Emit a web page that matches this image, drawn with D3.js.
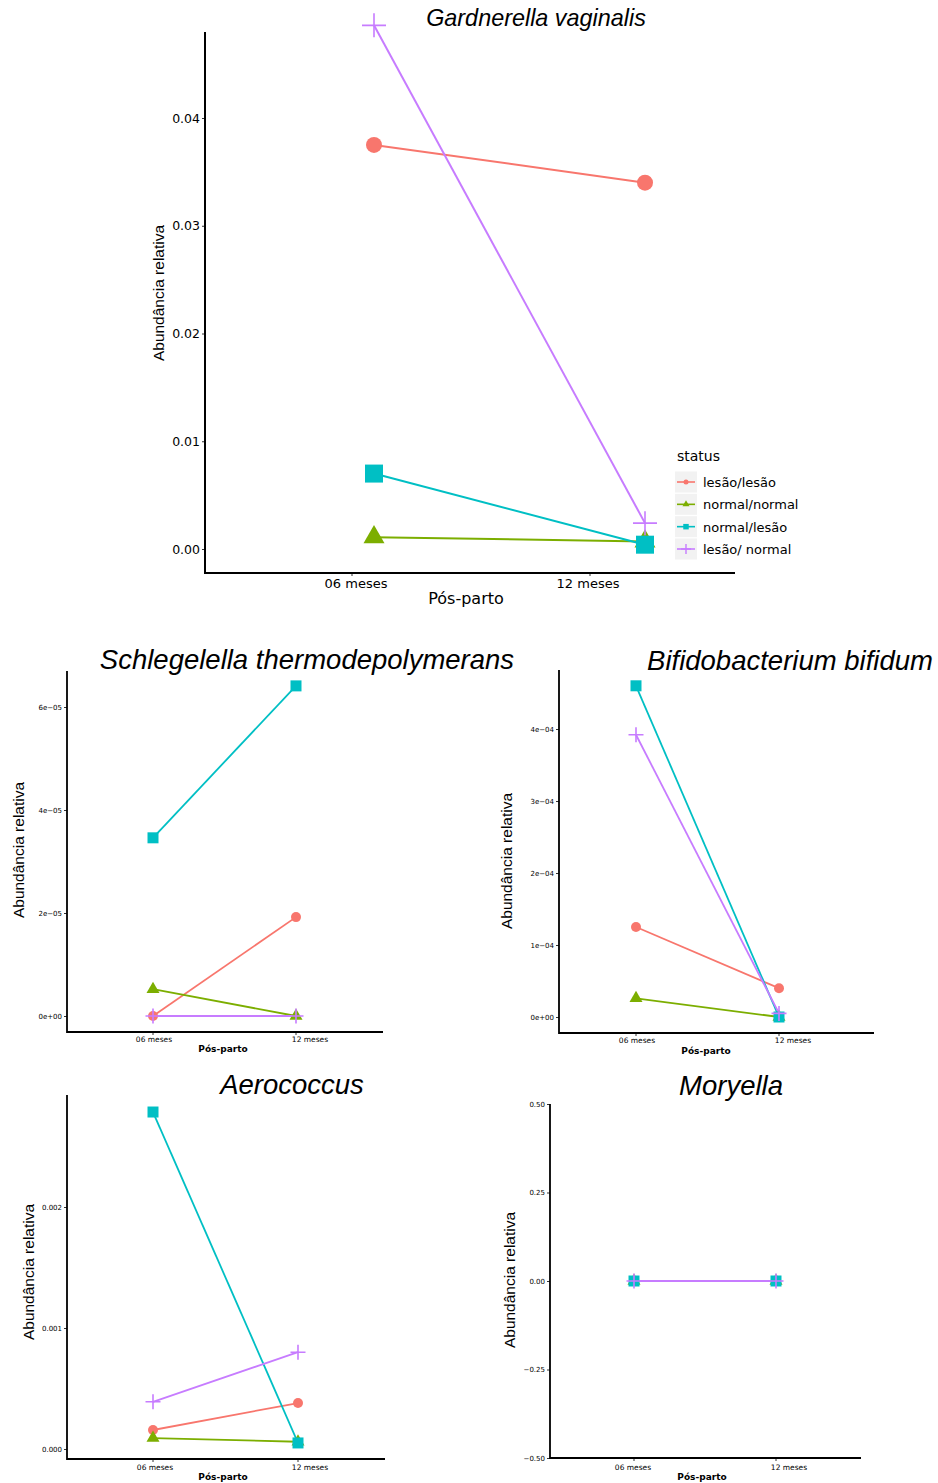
<!DOCTYPE html>
<html>
<head>
<meta charset="utf-8">
<script src="https://cdn.jsdelivr.net/npm/d3@7"></script>
<style>
  body { margin: 0; background: #fff; }
  svg text { fill: #000; }
</style>
</head>
<body>
<div id="main_container"></div>
<script>

// -- DATA

var timepoints = ["06 meses", "12 meses"];
var statusNames = ["lesão/lesão", "normal/normal", "normal/lesão", "lesão/ normal"];
var statusColors = ["#F8766D", "#7CAE00", "#00BFC4", "#C77CFF"];
var statusShapes = ["circle", "triangle", "square", "plus"];

// one row per status, [06 meses, 12 meses]
var gardnerellaValues = [[0.0375, 0.0340], [0.0011, 0.0007], [0.0070, 0.0004], [0.0486, 0.0024]];
var gardnerellaTicks = [0, 0.01, 0.02, 0.03, 0.04];
var gardnerellaTickLabels = ["0.00", "0.01", "0.02", "0.03", "0.04"];

var schlegelellaValues = [[0, 1.92e-5], [5.2e-6, 0], [3.46e-5, 6.41e-5], [0, 0]];
var schlegelellaTicks = [0, 2e-5, 4e-5, 6e-5];
var schlegelellaTickLabels = ["0e+00", "2e\u221205", "4e\u221205", "6e\u221205"];

var bifidumValues = [[1.25e-4, 4.0e-5], [2.6e-5, 0], [4.6e-4, 0], [3.92e-4, 5e-6]];
var bifidumTicks = [0, 1e-4, 2e-4, 3e-4, 4e-4];
var bifidumTickLabels = ["0e+00", "1e\u221204", "2e\u221204", "3e\u221204", "4e\u221204"];

var aerococcusValues = [[1.57e-4, 3.8e-4], [9e-5, 6e-5], [2.785e-3, 5e-5], [3.9e-4, 8.0e-4]];
var aerococcusTicks = [0, 0.001, 0.002];
var aerococcusTickLabels = ["0.000", "0.001", "0.002"];

var moryellaValues = [[0, 0], [0, 0], [0, 0], [0, 0]];
var moryellaTicks = [-0.5, -0.25, 0, 0.25, 0.5];
var moryellaTickLabels = ["\u22120.50", "\u22120.25", "0.00", "0.25", "0.50"];

// -- LAYOUT

var bigMarks = {r: 8, tri: 21, sq: 18, plus: 12, line: 2};
var smallMarks = {r: 5, tri: 13, sq: 11, plus: 7.5, line: 1.8};

var panels = [
  {title: "Gardnerella vaginalis", values: gardnerellaValues, ticks: gardnerellaTicks, tickLabels: gardnerellaTickLabels,
    axisX: 205, axisEnd: 735, axisTop: 32, axisBottom: 573, yPix: [549, 118],
    dataX: [374, 645], tickX: [352, 590], labelX: [356, 588], labelY: 588,
    titleX: 536, titleY: 26, titleSize: 23.4, yTitleX: 164, yTitleY: 293,
    xTitleX: 466, xTitleY: 604, xTitleSize: 16, xTitleWeight: "normal",
    tickSize: 12.5, marks: bigMarks, legend: true},
  {title: "Schlegelella thermodepolymerans", values: schlegelellaValues, ticks: schlegelellaTicks, tickLabels: schlegelellaTickLabels,
    axisX: 67, axisEnd: 383, axisTop: 671, axisBottom: 1032, yPix: [1016, 707],
    dataX: [153, 296], tickX: [153, 296], labelX: [154, 310], labelY: 1042,
    titleX: 307, titleY: 669, titleSize: 27.5, yTitleX: 24, yTitleY: 850,
    xTitleX: 223, xTitleY: 1052, xTitleSize: 9, xTitleWeight: "bold",
    tickSize: 7, marks: smallMarks},
  {title: "Bifidobacterium bifidum", values: bifidumValues, ticks: bifidumTicks, tickLabels: bifidumTickLabels,
    axisX: 559, axisEnd: 874, axisTop: 670, axisBottom: 1033, yPix: [1017, 729],
    dataX: [636, 779], tickX: [636, 779], labelX: [637, 793], labelY: 1043,
    titleX: 790, titleY: 670, titleSize: 27.5, yTitleX: 512, yTitleY: 861,
    xTitleX: 706, xTitleY: 1054, xTitleSize: 9, xTitleWeight: "bold",
    tickSize: 7, marks: smallMarks},
  {title: "Aerococcus", values: aerococcusValues, ticks: aerococcusTicks, tickLabels: aerococcusTickLabels,
    axisX: 67, axisEnd: 385, axisTop: 1095, axisBottom: 1459, yPix: [1449, 1207],
    dataX: [153, 298], tickX: [153, 298], labelX: [155, 310], labelY: 1470,
    titleX: 292, titleY: 1094, titleSize: 27.5, yTitleX: 34, yTitleY: 1272,
    xTitleX: 223, xTitleY: 1480, xTitleSize: 9, xTitleWeight: "bold",
    tickSize: 7, marks: smallMarks},
  {title: "Moryella", values: moryellaValues, ticks: moryellaTicks, tickLabels: moryellaTickLabels,
    axisX: 550, axisEnd: 861, axisTop: 1104, axisBottom: 1458, yPix: [1458, 1104],
    dataX: [634, 776], tickX: [634, 776], labelX: [633, 789], labelY: 1470,
    titleX: 731, titleY: 1095, titleSize: 27.5, yTitleX: 515, yTitleY: 1280,
    xTitleX: 702, xTitleY: 1480, xTitleSize: 9, xTitleWeight: "bold",
    tickSize: 7, marks: smallMarks}
];

var svg = d3.select("#main_container")
  .append("svg")
  .attr("width", 938)
  .attr("height", 1483);

// plus drawn as two strokes, like ggplot shape 3
function markPath(shape, m) {
  if (shape == "circle") return d3.symbol(d3.symbolCircle, Math.PI * m.r * m.r)();
  if (shape == "triangle") return d3.symbol(d3.symbolTriangle, m.tri * m.tri * Math.sqrt(3) / 4)();
  if (shape == "square") return d3.symbol(d3.symbolSquare, m.sq * m.sq)();
  var s = m.plus;
  return "M" + (-s) + ",0H" + s + "M0," + (-s) + "V" + s;
}

function drawPanel(p) {
  var g = svg.append("g");
  // scale pinned by the first and last tick pixel positions
  var y = d3.scaleLinear()
    .domain([p.ticks[0] < 0 ? p.ticks[0] : 0, p.ticks[p.ticks.length - 1]])
    .range([p.yPix[0], p.yPix[1]]);
  var xData = d3.scalePoint().domain(timepoints).range(p.dataX);
  var xTick = d3.scalePoint().domain(timepoints).range(p.tickX);
  var xLabel = d3.scalePoint().domain(timepoints).range(p.labelX);

  // y axis
  var yAxis = d3.axisLeft(y)
    .tickValues(p.ticks)
    .tickFormat(function(d, i) { return p.tickLabels[i]; })
    .tickSize(3)
    .tickPadding(2);
  var ya = g.append("g")
    .attr("transform", "translate(" + p.axisX + ",0)")
    .call(yAxis);
  ya.select(".domain").remove();
  ya.selectAll(".tick line").attr("stroke", "#333").attr("stroke-width", 1);
  ya.selectAll(".tick text")
    .attr("fill", "#4d4d4d")
    .style("font-family", "DejaVu Sans")
    .style("font-size", p.tickSize + "px");

  // x ticks + labels
  g.selectAll(".xtick")
    .data(timepoints)
    .enter()
    .append("line")
    .attr("x1", function(d) { return xTick(d); })
    .attr("x2", function(d) { return xTick(d); })
    .attr("y1", p.axisBottom)
    .attr("y2", p.axisBottom + 3)
    .attr("stroke", "#333");
  g.selectAll(".xlab")
    .data(timepoints)
    .enter()
    .append("text")
    .attr("x", function(d) { return xLabel(d); })
    .attr("y", p.labelY)
    .attr("text-anchor", "middle")
    .attr("fill", "#4d4d4d")
    .style("font-family", "DejaVu Sans")
    .style("font-size", (p.legend ? 13 : 7.5) + "px")
    .text(function(d) { return d; });

  // axis lines
  g.append("path")
    .attr("d", "M" + p.axisX + "," + p.axisTop + "V" + p.axisBottom + "H" + p.axisEnd)
    .attr("fill", "none")
    .attr("stroke", "#000")
    .attr("stroke-width", p.legend ? 2 : 1.8);

  // lines, then points
  var line = d3.line()
    .x(function(d, i) { return xData(timepoints[i]); })
    .y(function(d) { return y(d); });
  g.selectAll(".series")
    .data(p.values)
    .enter()
    .append("path")
    .attr("d", function(d) { return line(d); })
    .attr("fill", "none")
    .attr("stroke", function(d, i) { return statusColors[i]; })
    .attr("stroke-width", p.marks.line);

  p.values.forEach(function(vals, si) {
    vals.forEach(function(v, ti) {
      var shape = statusShapes[si];
      g.append("path")
        .attr("transform", "translate(" + xData(timepoints[ti]) + "," + y(v) + ")")
        .attr("d", markPath(shape, p.marks))
        .attr("fill", shape == "plus" ? "none" : statusColors[si])
        .attr("stroke", shape == "plus" ? statusColors[si] : "none")
        .attr("stroke-width", 1.6);
    });
  });

  // titles
  g.append("text")
    .attr("x", p.titleX)
    .attr("y", p.titleY)
    .attr("text-anchor", "middle")
    .style("font-family", "Liberation Sans")
    .style("font-style", "italic")
    .style("font-size", p.titleSize + "px")
    .text(p.title);
  g.append("text")
    .attr("transform", "translate(" + p.yTitleX + "," + p.yTitleY + ") rotate(-90)")
    .attr("text-anchor", "middle")
    .style("font-family", "Liberation Sans")
    .style("font-size", "15.5px")
    .text("Abundância relativa");
  g.append("text")
    .attr("x", p.xTitleX)
    .attr("y", p.xTitleY)
    .attr("text-anchor", "middle")
    .style("font-family", "DejaVu Sans")
    .style("font-size", p.xTitleSize + "px")
    .style("font-weight", p.xTitleWeight)
    .text("Pós-parto");

  if (p.legend) {
    drawLegend();
  }
}

function drawLegend() {
  var lg = svg.append("g").attr("transform", "translate(675,0)");
  lg.append("text")
    .attr("x", 2)
    .attr("y", 461)
    .style("font-family", "DejaVu Sans")
    .style("font-size", "14px")
    .text("status");
  var keyY = d3.scalePoint().domain(statusNames).range([482, 549]);
  var legendMarks = {r: 2.5, tri: 7, sq: 5.5, plus: 5};
  var item = lg.selectAll(".key")
    .data(statusNames)
    .enter()
    .append("g")
    .attr("transform", function(d) { return "translate(0," + keyY(d) + ")"; });
  item.append("rect")
    .attr("x", 0).attr("y", -10.5).attr("width", 22).attr("height", 21)
    .attr("fill", "#f2f2f2");
  item.append("line")
    .attr("x1", 2).attr("x2", 20)
    .attr("stroke", function(d, i) { return statusColors[i]; })
    .attr("stroke-width", 1.6);
  item.append("path")
    .attr("transform", "translate(11,0)")
    .attr("d", function(d, i) { return markPath(statusShapes[i], legendMarks); })
    .attr("fill", function(d, i) { return statusShapes[i] == "plus" ? "none" : statusColors[i]; })
    .attr("stroke", function(d, i) { return statusShapes[i] == "plus" ? statusColors[i] : "none"; })
    .attr("stroke-width", 1.4);
  item.append("text")
    .attr("x", 28)
    .attr("y", 5)
    .style("font-family", "DejaVu Sans")
    .style("font-size", "13px")
    .text(function(d) { return d; });
}

panels.forEach(drawPanel);
</script>
</body>
</html>
